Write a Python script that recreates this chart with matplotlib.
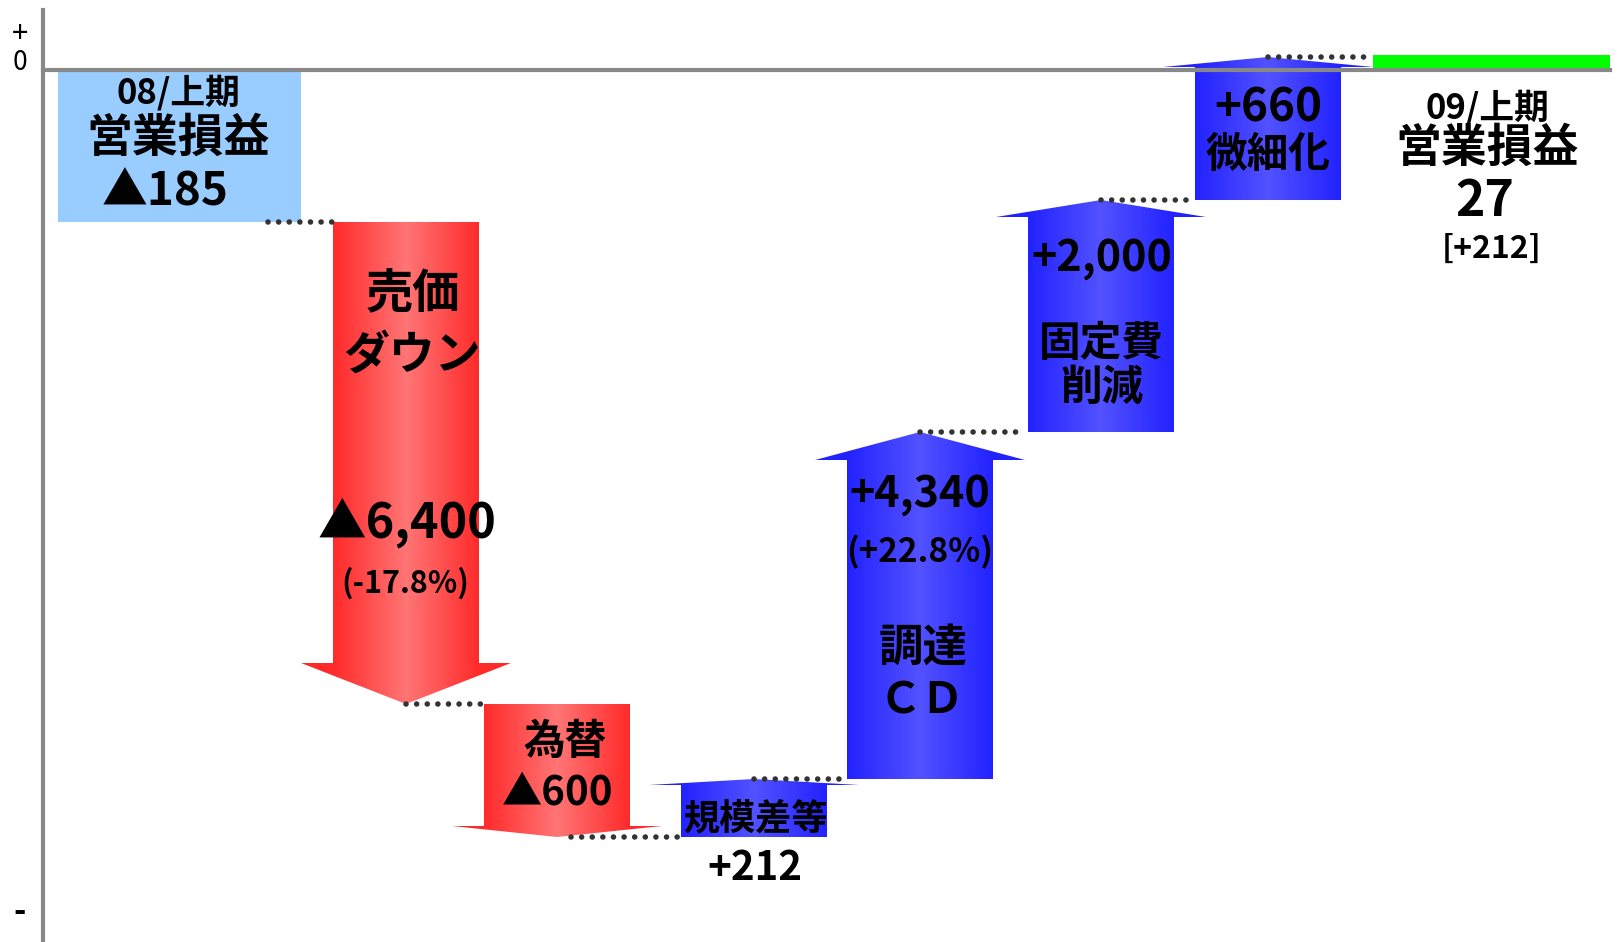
import numpy as np
import matplotlib.pyplot as plt
from matplotlib.patches import Polygon
from matplotlib.colors import LinearSegmentedColormap

plt.rcParams['font.family'] = ['Noto Sans CJK JP', 'DejaVu Sans']

# values printed on the chart (operating profit bridge, 08 -> 09 first half)
start_value = -185
step_values = [-6400, -600, 212, 4340, 2000, 660]
end_value = 27
end_diff = 212
step_pct = {0: -17.8, 3: 22.8}
step_names = ['売価\nダウン', '為替', '規模差等', '調達\nＣＤ', '固定費\n削減', '微細化']

# the picture is schematic, not to scale: drawn heights
drawn_start = -152
drawn_steps = [-482, -133, 58, 347, 232, 143]
drawn_end = 15

# layout (pixel-like units)
W, H = 1619, 942
zero_py = 70
centers = [406, 557, 754, 920, 1101, 1268]
head_len = [41, 11, 6, 28, 17, 10]
shaft_w, head_w = 146, 210

fig = plt.figure(figsize=(W / 100, H / 100), dpi=100)
ax = fig.add_axes([0, 0, 1, 1])

red_cm = LinearSegmentedColormap.from_list('r', ['#FF7575', '#FF2A2A'])
blue_cm = LinearSegmentedColormap.from_list('b', ['#5252FF', '#2222FF'])


def grad_arrow(cx, y0, y1, head, cmap):
    sgn = np.sign(y1 - y0)
    yb = y1 - sgn * head
    hw, hh = shaft_w / 2, head_w / 2
    pts = [(cx - hw, y0), (cx - hw, yb), (cx - hh, yb), (cx, y1),
           (cx + hh, yb), (cx + hw, yb), (cx + hw, y0)]
    poly = Polygon(pts, closed=True, facecolor='none', edgecolor='none')
    ax.add_patch(poly)
    xs = np.linspace(cx - hh, cx + hh, 300)
    t = np.clip(np.abs(xs - cx) / hw, 0, 1)
    img = ax.imshow(t[None, :], cmap=cmap, vmin=0, vmax=1, aspect='auto',
                    extent=[cx - hh, cx + hh, min(y0, y1), max(y0, y1)],
                    interpolation='bilinear', origin='lower', zorder=2)
    img.set_clip_path(poly)


def dots(x0, x1, y):
    ax.plot([x0, x1], [y, y], color='#333333', lw=4, zorder=4,
            linestyle=(0, (0.01, 1.9)), dash_capstyle='round')


# axes lines
ax.plot([43, 43], [zero_py - 10, zero_py - H], color='#888888', lw=3, zorder=1)
ax.plot([43, 1610], [0, 0], color='#888888', lw=3, zorder=3)
ax.text(20, zero_py - 34, '+', ha='center', va='center', fontsize=21)
ax.text(20, zero_py - 63, '0', ha='center', va='center', fontsize=19)
ax.text(20, zero_py - 913, '-', ha='center', va='center', fontsize=24, fontweight='bold')

# start bar
ax.bar(179.5, drawn_start, width=243, bottom=0, color='#99CCFF', zorder=2)
dots(268, 333, drawn_start)

tb = dict(ha='center', va='center', fontweight='bold', color='black', zorder=5)
ax.text(178, zero_py - 93, '08/上期', fontsize=25, **tb)
ax.text(178, zero_py - 139, '営業損益', fontsize=33, **tb)
ax.text(165, zero_py - 193, '▲{:,}'.format(-start_value), fontsize=33, **tb)

level = drawn_start
tips = []
for i, d in enumerate(drawn_steps):
    cmap = red_cm if d < 0 else blue_cm
    grad_arrow(centers[i], level, level + d, head_len[i], cmap)
    level = level + d
    tips.append(level)

for i, lv in enumerate(tips):
    nxt = centers[i + 1] - shaft_w / 2 if i + 1 < len(centers) else 1370
    dots(centers[i] + (0 if i != 1 else 14), nxt - 3, lv)

# final bar
ax.bar(1491.5, drawn_end, width=237, bottom=0, color='#00FF00', zorder=2)


def sval(v):
    return ('▲{:,}' if v < 0 else '+{:,}').format(abs(v))


# step labels
ax.text(413, zero_py - 294, '売価', fontsize=34, **tb)
ax.text(412, zero_py - 356, 'ダウン', fontsize=33, **tb)
ax.text(407, zero_py - 523, sval(step_values[0]), fontsize=35, **tb)
ax.text(405, zero_py - 583, '({:.1f}%)'.format(step_pct[0]), fontsize=22, **tb)

ax.text(565, zero_py - 742, '為替', fontsize=30, **tb)
ax.text(558, zero_py - 793, sval(step_values[1]), fontsize=29, **tb)

ax.text(755, zero_py - 819, '規模差等', fontsize=26, **tb)
ax.text(755, zero_py - 869, sval(step_values[2]), fontsize=29, **tb)

ax.text(920, zero_py - 494, sval(step_values[3]), fontsize=31, **tb)
ax.text(920, zero_py - 552, '(+{:.1f}%)'.format(step_pct[3]), fontsize=24, **tb)
ax.text(923, zero_py - 648, '調達', fontsize=32, **tb)
ax.text(922, zero_py - 700, 'ＣＤ', fontsize=31, **tb)

ax.text(1102, zero_py - 258, sval(step_values[4]), fontsize=31, **tb)
ax.text(1101, zero_py - 344, '固定費', fontsize=30, **tb)
ax.text(1102, zero_py - 388, '削減', fontsize=30, **tb)

ax.text(1268, zero_py - 109, sval(step_values[5]), fontsize=33, **tb)
ax.text(1268, zero_py - 155, '微細化', fontsize=30, **tb)

# end labels
ax.text(1487, zero_py - 108, '09/上期', fontsize=25, **tb)
ax.text(1487, zero_py - 149, '営業損益', fontsize=33, **tb)
ax.text(1485, zero_py - 202, '{}'.format(end_value), fontsize=36, **tb)
ax.text(1492, zero_py - 249, '[+{}]'.format(end_diff), fontsize=23, **tb)

ax.set_xlim(0, W)
ax.set_ylim(zero_py - H, zero_py)
ax.axis('off')

fig.savefig('out.png', dpi=100)
